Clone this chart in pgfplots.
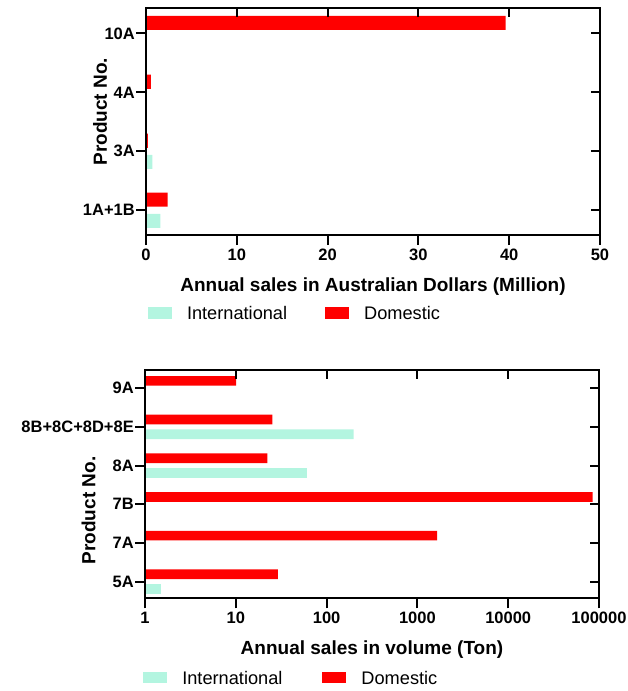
\documentclass[border=0pt]{standalone}
\usepackage{fontspec}
\setmainfont{Liberation Sans}
\usepackage{pgfplots}
\pgfplotsset{compat=1.18}
\definecolor{intl}{HTML}{B3F5E0}
\definecolor{dom}{HTML}{FF0000}
\pgfplotsset{
  common/.style={
    scale only axis,
    axis line style={line width=2pt},
    tick style={line width=2pt, black},
    major tick length=10pt,
    tick align=outside,
    xtick pos=left, ytick pos=left,
    xbar,
    ticklabel style={font=\fontsize{16.5}{18}\selectfont\bfseries},
    yticklabel style={inner xsep=1pt},
    /pgf/number format/assume math mode=true,
    label style={font=\fontsize{19}{22}\selectfont\bfseries},
    xlabel style={at={(axis description cs:0.5,0)}, anchor=base, yshift=-56pt},
    legend columns=2,
    legend style={draw=none, fill=none, inner sep=0pt, outer sep=0pt,
      font=\fontsize{18.2}{20}\selectfont,
      nodes={inner sep=0pt},
      /tikz/every odd column/.style={column sep=15pt},
      /tikz/every even column/.style={column sep=38pt}},
    legend cell align=left,
  },
  mirror/.style={
    scale only axis,
    axis line style={line width=2pt},
    tick style={line width=2pt, black},
    major tick length=9pt,
    tick align=inside,
    xtick pos=right, ytick pos=right,
    xticklabels={}, yticklabels={},
  },
  intlimg/.style={legend image code/.code={\fill[intl] (0pt,-5pt) rectangle (24pt,6.5pt);}},
  domimg/.style={legend image code/.code={\fill[dom] (0pt,-5pt) rectangle (24pt,6.5pt);}},
}
\begin{document}
\begin{tikzpicture}
\path[use as bounding box] (0pt,0pt) rectangle (627pt,-691pt);
% ---------- top chart ----------
\begin{axis}[common,
  at={(146pt,-7.5pt)}, anchor=north west,
  width=454pt, height=227.5pt,
  xmin=0, xmax=50, ymin=-0.42, ymax=3.44,
  xtick={0,10,20,30,40,50}, xticklabels={0,10,20,30,40,50},
  ytick={0,1,2,3}, yticklabels={1A+1B,3A,4A,10A},
  bar width=0.24,
  xlabel={Annual sales in Australian Dollars (Million)},
  ylabel={Product No.},
  ylabel style={at={(axis description cs:-0.1013,0.542)}, anchor=center},
  legend style={at={(axis description cs:0,0)}, anchor=west, xshift=2pt, yshift=-78.9pt},
]
\addplot[fill=intl, draw=none, bar shift=-0.18, intlimg] coordinates {(1.57,0) (0.69,1)};
\addlegendentry{International}
\addplot[fill=dom, draw=none, bar shift=0.18, domimg] coordinates {(2.38,0) (0.22,1) (0.55,2) (39.6,3)};
\addlegendentry{Domestic}
\end{axis}
\begin{axis}[mirror,
  at={(146pt,-7.5pt)}, anchor=north west,
  width=454pt, height=227.5pt,
  xmin=0, xmax=50, ymin=-0.42, ymax=3.44,
  xtick={10,20,30,40}, ytick={0,1,2,3},
]
\end{axis}
% ---------- bottom chart ----------
\begin{axis}[common,
  at={(145pt,-370pt)}, anchor=north west,
  width=454pt, height=228.3pt,
  xmode=log, log origin=0,
  xmin=1, xmax=100000, ymin=-0.43, ymax=5.47,
  xtick={1,10,100,1000,10000,100000},
  xticklabels={1,10,100,1000,10000,100000},
  xminorticks=false,
  ytick={0,1,2,3,4,5}, yticklabels={5A,7A,7B,8A,8B+8C+8D+8E,9A},
  bar width=0.25,
  xlabel={Annual sales in volume (Ton)},
  ylabel={Product No.},
  ylabel style={at={(axis description cs:-0.1244,0.3846)}, anchor=center},
  legend style={at={(axis description cs:0,0)}, anchor=west, xshift=-1.7pt, yshift=-79.9pt,
    /tikz/every even column/.style={column sep=40pt}},
]
\addplot[fill=intl, draw=none, bar shift=-0.19, intlimg] coordinates {(1.5,0) (60.7,3) (198,4)};
\addlegendentry{International}
\addplot[fill=dom, draw=none, bar shift=0.19, domimg] coordinates {(29,0) (1650,1) (85000,2) (22.3,3) (25.3,4) (10.1,5)};
\addlegendentry{Domestic}
\end{axis}
\begin{axis}[mirror,
  at={(145pt,-370pt)}, anchor=north west,
  width=454pt, height=228.3pt,
  xmode=log, xmin=1, xmax=100000, ymin=-0.43, ymax=5.47,
  xtick={10,100,1000,10000}, xminorticks=false, ytick={0,1,2,3,4,5},
]
\end{axis}
\end{tikzpicture}
\end{document}
